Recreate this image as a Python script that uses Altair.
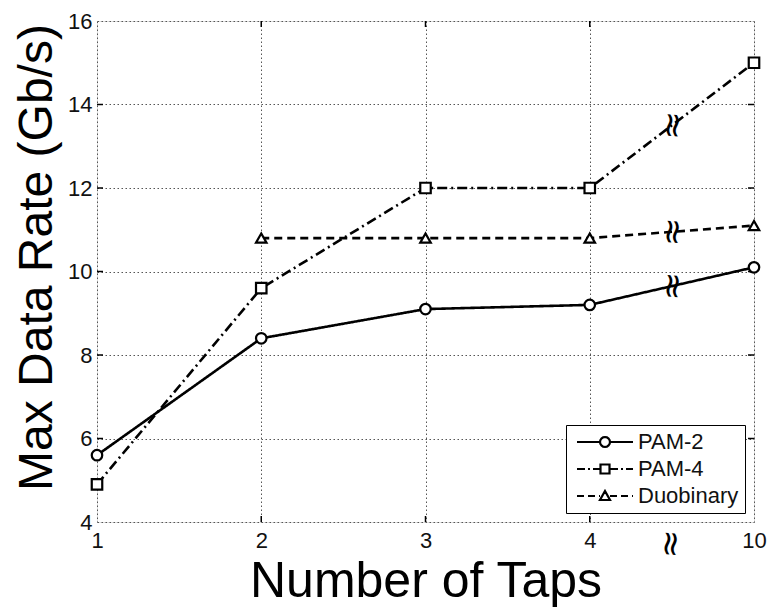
import altair as alt
import pandas as pd
import numpy as np

# ---- data ----
tap_pos = [1, 2, 3, 4, 5]
tap_labels = ["1", "2", "3", "4", "10"]
series_names = ["PAM-2", "PAM-4", "Duobinary"]
pam2 = [5.6, 8.4, 9.1, 9.2, 10.1]
pam4 = [4.9, 9.6, 12.0, 12.0, 15.0]
duob = [None, 10.8, 10.8, 10.8, 11.1]
y_ticks = [4, 6, 8, 10, 12, 14, 16]

rows = []
for name, vals in zip(series_names, [pam2, pam4, duob]):
    for p, v in zip(tap_pos, vals):
        if v is not None:
            rows.append({"pos": p, "rate": v, "series": name})
df = pd.DataFrame(rows)

# break marks at midpoint between tap 4 and 10
brk = []
for name, vals in zip(series_names, [pam2, pam4, duob]):
    brk.append({"pos": (tap_pos[3] + tap_pos[4]) / 2, "rate": (vals[3] + vals[4]) / 2, "series": name})
brk_df = pd.DataFrame(brk)

ytick_df = pd.DataFrame({"v": y_ticks[1:-1]})
xtick_df = pd.DataFrame({"p": tap_pos[1:-1]})

label_expr = "datum.value == 5 ? '10' : '' + datum.value"

# ---- legend symbol paths (line + marker), unit = 6px, centre at 6px ----
S = 6.0
def ux(px):
    return (px - 6.0) / S

def seg(x0, x1):
    return f"M{ux(x0):.3f},0L{ux(x1):.3f},0"

def dashed(x0, x1, pattern):
    out = []
    x = x0
    i = 0
    while x < x1:
        L = pattern[i % len(pattern)]
        if i % 2 == 0:
            out.append(seg(x, min(x + L, x1)))
        x += L
        i += 1
    return "".join(out)

W = 56.0
cx = W / 2
def circle_path(r=5.0):
    pts = []
    for k in range(16):
        a = 2 * np.pi * k / 16
        pts.append((ux(cx + r * np.cos(a)), r * np.sin(a) / S))
    return "M" + "L".join(f"{x:.3f},{y:.3f}" for x, y in pts) + "Z"

def square_path(h=4.5):
    h_ = h / S
    c = ux(cx)
    return f"M{c - h_:.3f},{-h_:.3f}L{c + h_:.3f},{-h_:.3f}L{c + h_:.3f},{h_:.3f}L{c - h_:.3f},{h_:.3f}Z"

def tri_path(h=5.0):
    h_ = h / S
    c = ux(cx)
    return f"M{c:.3f},{-h_:.3f}L{c + h_:.3f},{h_ * 0.8:.3f}L{c - h_:.3f},{h_ * 0.8:.3f}Z"

leg_pam2 = seg(0, cx - 5) + seg(cx + 5, W) + circle_path()
leg_pam4 = dashed(0, cx - 5, [8, 3, 2, 3]) + dashed(cx + 5, W, [8, 3, 2, 3]) + square_path()
leg_duo = dashed(0, cx - 5, [7, 4]) + dashed(cx + 5, W, [7, 4]) + tri_path()

FONT = "Liberation Sans"
GRID = dict(grid=True, gridDash=[1.5, 2.5], gridColor="#555", gridWidth=1)

x_enc = alt.X(
    "pos:Q",
    scale=alt.Scale(domain=[1, 5], nice=False, zero=False),
    axis=alt.Axis(
        values=tap_pos,
        labelExpr=label_expr,
        title="Number of Taps",
        titleFontSize=50,
        titleFontWeight="normal",
        titleFont=FONT,
        titleBaseline="alphabetic",
        titleY=74,
        labelFontSize=22,
        labelFont=FONT,
        labelColor="#111",
        labelPadding=8,
        labelFlush=False,
        ticks=False,
        domain=False,
        **GRID,
    ),
)
y_enc = alt.Y(
    "rate:Q",
    scale=alt.Scale(domain=[4, 16], nice=False, zero=False),
    axis=alt.Axis(
        values=y_ticks,
        title="Max Data Rate (Gb/s)",
        titleFontSize=48,
        titleFontWeight="normal",
        titleFont=FONT,
        titleAngle=-90,
        titleBaseline="middle",
        titleAlign="center",
        titleX=-60,
        titleY=236,
        labelFontSize=22,
        labelFont=FONT,
        labelColor="#111",
        labelPadding=5,
        ticks=False,
        domain=False,
        **GRID,
    ),
)

dash_scale = alt.Scale(domain=series_names, range=[[1, 0], [10, 4, 2, 4], [8, 5]])

lines = alt.Chart(df).mark_line(color="black", strokeWidth=2.6).encode(
    x=x_enc,
    y=y_enc,
    strokeDash=alt.StrokeDash("series:N", scale=dash_scale, legend=None),
    detail="series:N",
)

points = alt.Chart(df).mark_point(
    filled=True, fill="white", stroke="black", strokeWidth=2.2, size=110, opacity=1
).encode(
    x="pos:Q",
    y="rate:Q",
    shape=alt.Shape(
        "series:N",
        scale=alt.Scale(domain=series_names, range=["circle", "square", "triangle-up"]),
        legend=None,
    ),
)

# legend-only layer: no rows survive the filter, the scale domain drives the legend
legend_layer = alt.Chart(df).transform_filter("datum.rate < 0").mark_point(
    filled=False, color="black", strokeWidth=2.2, opacity=1
).encode(
    x="pos:Q",
    y="rate:Q",
    shape=alt.Shape(
        "series:N",
        scale=alt.Scale(domain=series_names, range=[leg_pam2, leg_pam4, leg_duo]),
        legend=alt.Legend(
            title=None,
            orient="bottom-right",
            offset=9,
            symbolSize=144,
            symbolOpacity=1,
            symbolStrokeColor="black",
            symbolStrokeWidth=2.2,
            labelFontSize=22,
            labelFont=FONT,
            labelColor="#111",
            labelOffset=44,
            rowPadding=5,
            padding=6,
            strokeColor="black",
            fillColor="white",
        ),
    ),
)

# inward tick marks on the frame
tick_style = dict(color="black", strokeWidth=1.5)
yt_left = alt.Chart(ytick_df).mark_rule(**tick_style).encode(
    y="v:Q", x=alt.value(0), x2=alt.value(6))
yt_right = alt.Chart(ytick_df).mark_rule(**tick_style).encode(
    y="v:Q", x=alt.value(651), x2=alt.value(657))
xt_bottom = alt.Chart(xtick_df).mark_rule(**tick_style).encode(
    x="p:Q", y=alt.value(495), y2=alt.value(501))
xt_top = alt.Chart(xtick_df).mark_rule(**tick_style).encode(
    x="p:Q", y=alt.value(0), y2=alt.value(6))

breaks = alt.Chart(brk_df).mark_text(
    text="\u2248", fontSize=34, font="DejaVu Sans", angle=95, color="black"
).encode(x="pos:Q", y="rate:Q")

axis_break = alt.Chart(brk_df.head(1)).mark_text(
    text="\u2248", fontSize=34, font="DejaVu Sans", angle=95, color="black", dx=22, clip=False
).encode(x="pos:Q", y=alt.datum(4))

chart = alt.layer(
    yt_left, yt_right, xt_bottom, xt_top, lines, points, legend_layer, breaks, axis_break
).resolve_scale(
    shape="independent"
).properties(
    width=657,
    height=501,
    autosize=alt.AutoSizeParams(type="none"),
    padding={"left": 97, "top": 21, "right": 13, "bottom": 85},
).configure_view(
    stroke="black", strokeWidth=2.5
).configure(background="white")

chart.save("out.html", embed_options={"renderer": "svg", "actions": False})
